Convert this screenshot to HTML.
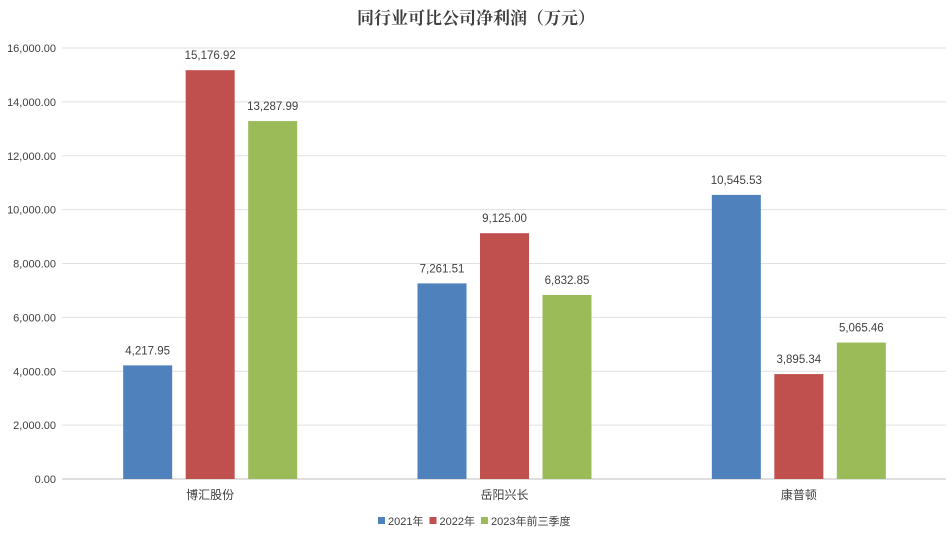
<!DOCTYPE html>
<html><head><meta charset="utf-8"><style>
body{margin:0;background:#fff;}
svg text{font-family:"Liberation Sans","Noto Sans CJK SC",sans-serif;}
</style></head><body>
<svg width="952" height="540" viewBox="0 0 952 540" id="chart">
<text x="476" y="24" text-anchor="middle" font-size="17" font-weight="bold" fill="#404040" style="font-family:'Liberation Serif','Noto Serif CJK SC',serif">同行业可比公司净利润（万元）</text>
<g id="grid"></g>
<g id="yaxis"></g>
<g id="bars"></g>
<g id="xaxis"></g>
<g id="legend"></g>
</svg>
<script>
const categories = ["博汇股份","岳阳兴长","康普顿"];
const seriesNames = ["2021年","2022年","2023年前三季度"];
const s2021 = [4217.95, 7261.51, 10545.53];
const s2022 = [15176.92, 9125.00, 3895.34];
const s2023 = [13287.99, 6832.85, 5065.46];
const yTicks = [0,2000,4000,6000,8000,10000,12000,14000,16000];
const colors = ["#4f81bd","#c0504d","#9bbb59"];
const NS="http://www.w3.org/2000/svg";
const x0=63,x1=946,yBase=479,yTop=48,yMax=16000;
const y=v=>yBase-(v/yMax)*(yBase-yTop);
const groupW=(x1-x0)/categories.length;
const cx=i=>x0+groupW*(i+0.5);
function mk(tag,attrs,parent){const e=document.createElementNS(NS,tag);for(const k in attrs)e.setAttribute(k,attrs[k]);parent.appendChild(e);return e;}
const fmt=v=>v.toLocaleString('en-US',{minimumFractionDigits:2,maximumFractionDigits:2});
const grid=document.getElementById('grid'),yax=document.getElementById('yaxis'),bars=document.getElementById('bars'),xax=document.getElementById('xaxis'),leg=document.getElementById('legend');
yTicks.forEach(t=>{
  const l=mk('line',{x1:62,x2:x1,y1:y(t),y2:y(t),stroke:t===0?'#bfbfbf':'#e0e0e0','stroke-width':1},grid);
  
  
  const tx=mk('text',{x:56,y:y(t)+4,'text-anchor':'end','font-size':11,fill:'#404040'},yax);
  tx.textContent=fmt(t);
  
  
});
const series=[s2021,s2022,s2023];
const bw=49,step=62.5;
categories.forEach((c,i)=>{
  series.forEach((s,j)=>{
    const bx=cx(i)+(j-1)*step-bw/2;
    const r=mk('rect',{x:bx,y:y(s[i]),width:bw,height:yBase-y(s[i]),fill:colors[j]},bars);
    
    
    const lt=mk('text',{x:bx+bw/2,y:y(s[i])-11,'text-anchor':'middle','font-size':11.5,fill:'#404040'},bars);
    lt.textContent=fmt(s[i]);
    
    
  });
  const ct=mk('text',{x:cx(i),y:499,'text-anchor':'middle','font-size':12,fill:'#404040'},xax);
  ct.textContent=c;
  
  
});
let lx=378;
seriesNames.forEach((n,j)=>{
  const g=mk('g',{},leg);
  
  
  mk('rect',{x:lx,y:517,width:7,height:7,fill:colors[j]},g);
  const t=mk('text',{x:lx+10,y:525,'font-size':11,fill:'#404040'},g);
  t.textContent=n;
  lx+=10+t.getComputedTextLength()+6;
});
</script>
</body></html>
